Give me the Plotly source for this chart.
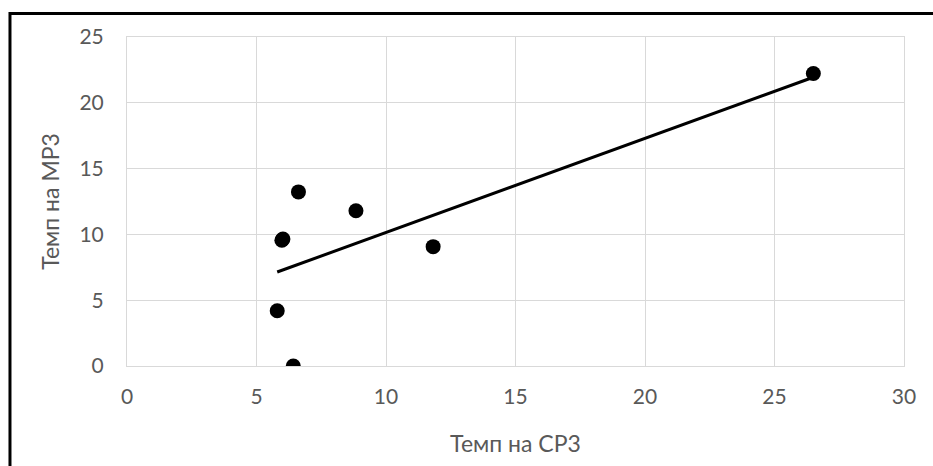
import numpy as np
import plotly.graph_objects as go

# Rates per region: СР3 on the horizontal axis, МР3 on the vertical axis
temp_sr3 = [5.80, 6.42, 5.98, 6.02, 6.62, 8.84, 11.82, 26.5]
temp_mr3 = [4.20, 0.0, 9.55, 9.65, 13.23, 11.80, 9.07, 22.23]

x_ticks = [0, 5, 10, 15, 20, 25, 30]
y_ticks = [0, 5, 10, 15, 20, 25]

# Linear trend line over the observed range
slope, intercept = np.polyfit(temp_sr3, temp_mr3, 1)
trend_x = [min(temp_sr3), max(temp_sr3)]
trend_y = [slope * v + intercept for v in trend_x]

tick_font = dict(family="Lato, sans-serif", size=21, color="#595959")
title_font = dict(family="Lato, sans-serif", size=23, color="#595959")

fig = go.Figure()
fig.add_trace(go.Scatter(
    x=temp_sr3, y=temp_mr3, mode="markers",
    marker=dict(color="black", size=15),
    showlegend=False, hoverinfo="skip",
))
fig.add_trace(go.Scatter(
    x=trend_x, y=trend_y, mode="lines",
    line=dict(color="black", width=3),
    showlegend=False, hoverinfo="skip",
))

fig.update_layout(
    width=933, height=466,
    margin=dict(l=127, r=29, t=37, b=100),
    paper_bgcolor="white", plot_bgcolor="white",
    xaxis=dict(
        range=[0, 30], tickvals=x_ticks, showgrid=True, gridcolor="#d9d9d9",
        gridwidth=1, zeroline=False, showline=True, linecolor="#d9d9d9",
        mirror=True, tickfont=tick_font, ticks="", ticklabelstandoff=12,
        title=dict(text="Темп на СР3", font=title_font, standoff=28),
        fixedrange=True,
    ),
    yaxis=dict(
        range=[0, 25], tickvals=y_ticks, showgrid=True, gridcolor="#d9d9d9",
        gridwidth=1, zeroline=False, showline=True, linecolor="#d9d9d9",
        mirror=True, tickfont=tick_font, ticks="", ticklabelstandoff=18,
        title=dict(text="Темп на МР3", font=title_font, standoff=13),
        fixedrange=True,
    ),
    shapes=[
        # outer chart frame
        dict(type="rect", xref="paper", yref="paper",
             x0=-0.1506, x1=1.2, y0=-0.5, y1=1.0714,
             line=dict(color="black", width=3), fillcolor="rgba(0,0,0,0)",
             layer="above"),
    ],
)

fig.write_html("out.html")
